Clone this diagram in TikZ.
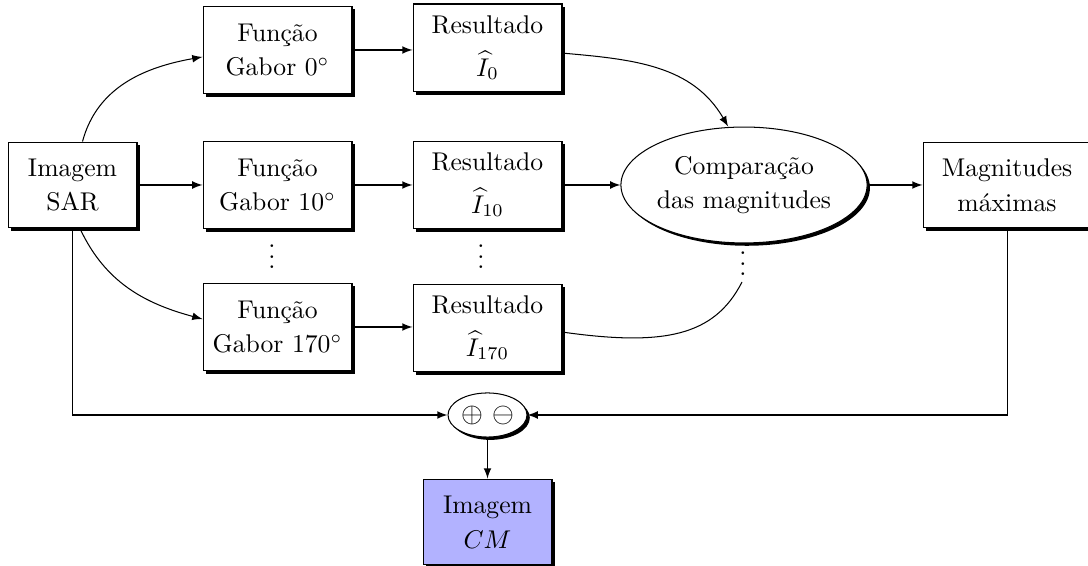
\documentclass[tikz,border=0pt]{standalone}
\usetikzlibrary{shadows,shapes.geometric,arrows}
\begin{document}
\begin{tikzpicture}[x=0.39pt,y=0.39pt,>=latex,
  txt/.style={align=center,inner sep=0pt,font=\fontsize{10}{13.5}\selectfont},
  shade/.style={drop shadow={shadow xshift=1.1pt,shadow yshift=-1.1pt,fill=black,opacity=1}},
  blk/.style={txt,draw,fill=white,shade,minimum width=58.1pt,minimum height=34.3pt},
  srcbox/.style={blk,minimum width=50.3pt,minimum height=33.5pt},
  oval/.style={txt,draw,fill=white,shade,ellipse},
  dotsnode/.style={inner sep=0pt,anchor=base},
  link/.style={->}]
\useasboundingbox (0,0) rectangle (1088,-566);

% input image
\node[srcbox] (sar) at (72.5,-185) {Imagem\\SAR};

% Gabor filters
\node[blk] (g0)   at (277.5,-50)  {Função\\Gabor $0^\circ$};
\node[blk] (g10)  at (277.5,-185) {Função\\Gabor $10^\circ$};
\node[blk] (g170) at (277.5,-327) {Função\\Gabor $170^\circ$};

% filter responses
\node[blk] (r0)   at (487.5,-48)  {Resultado\\[3pt]$\widehat{I}_0$};
\node[blk] (r10)  at (487.5,-185) {Resultado\\[3pt]$\widehat{I}_{10}$};
\node[blk] (r170) at (487.5,-328) {Resultado\\[3pt]$\widehat{I}_{170}$};

% comparison and maxima
\node[oval,minimum width=94.4pt,minimum height=45.2pt] (cmp) at (744,-185) {Comparação\\das magnitudes};
\node[blk,minimum width=65.5pt,minimum height=33.5pt] (mag) at (1007,-185) {Magnitudes\\máximas};

% combination and result
\node[oval,minimum width=30.8pt,minimum height=17.2pt,font=\fontsize{11}{13}\selectfont] (op) at (487.5,-415) {$\oplus\ \ominus$};
\node[srcbox,fill=blue!30] (cm) at (487.5,-522) {Imagem\\$CM$};

% ellipsis marks
\node[dotsnode] (d1) at (272,-268.4) {$\vdots$};
\node[dotsnode] (d2) at (481,-268.4) {$\vdots$};
\node[dotsnode] (d3) at (743,-275.4) {$\vdots$};
\coordinate (cend) at (742,-282);

% connectors
\draw[link] ([xshift=3.9pt]sar.north) to[out=75,in=190] ([yshift=-2.7pt]g0.west);
\draw[link] (sar) -- (g10);
\draw[link] ([xshift=2.9pt]sar.south) to[out=-65,in=165] ([yshift=3.1pt]g170.west);

\draw[link] (g0.east) -- (g0.east -| r0.west);
\draw[link] (g10) -- (r10);
\draw[link] (g170.east) -- (g170.east -| r170.west);

\draw[link] ([yshift=-2pt]r0.east) to[out=-5,in=120] ([xshift=-6.2pt]cmp.north);
\draw[link] (r10) -- (cmp);
\draw ([yshift=-1.6pt]r170.east) to[out=-8,in=-117,out looseness=1.4,in looseness=0.84] (cend);

\draw[link] (cmp) -- (mag);

\draw[link] (sar.south) |- (op.west);
\draw[link] (mag.south) |- (op.east);
\draw[link] (op) -- (cm);
\end{tikzpicture}
\end{document}
